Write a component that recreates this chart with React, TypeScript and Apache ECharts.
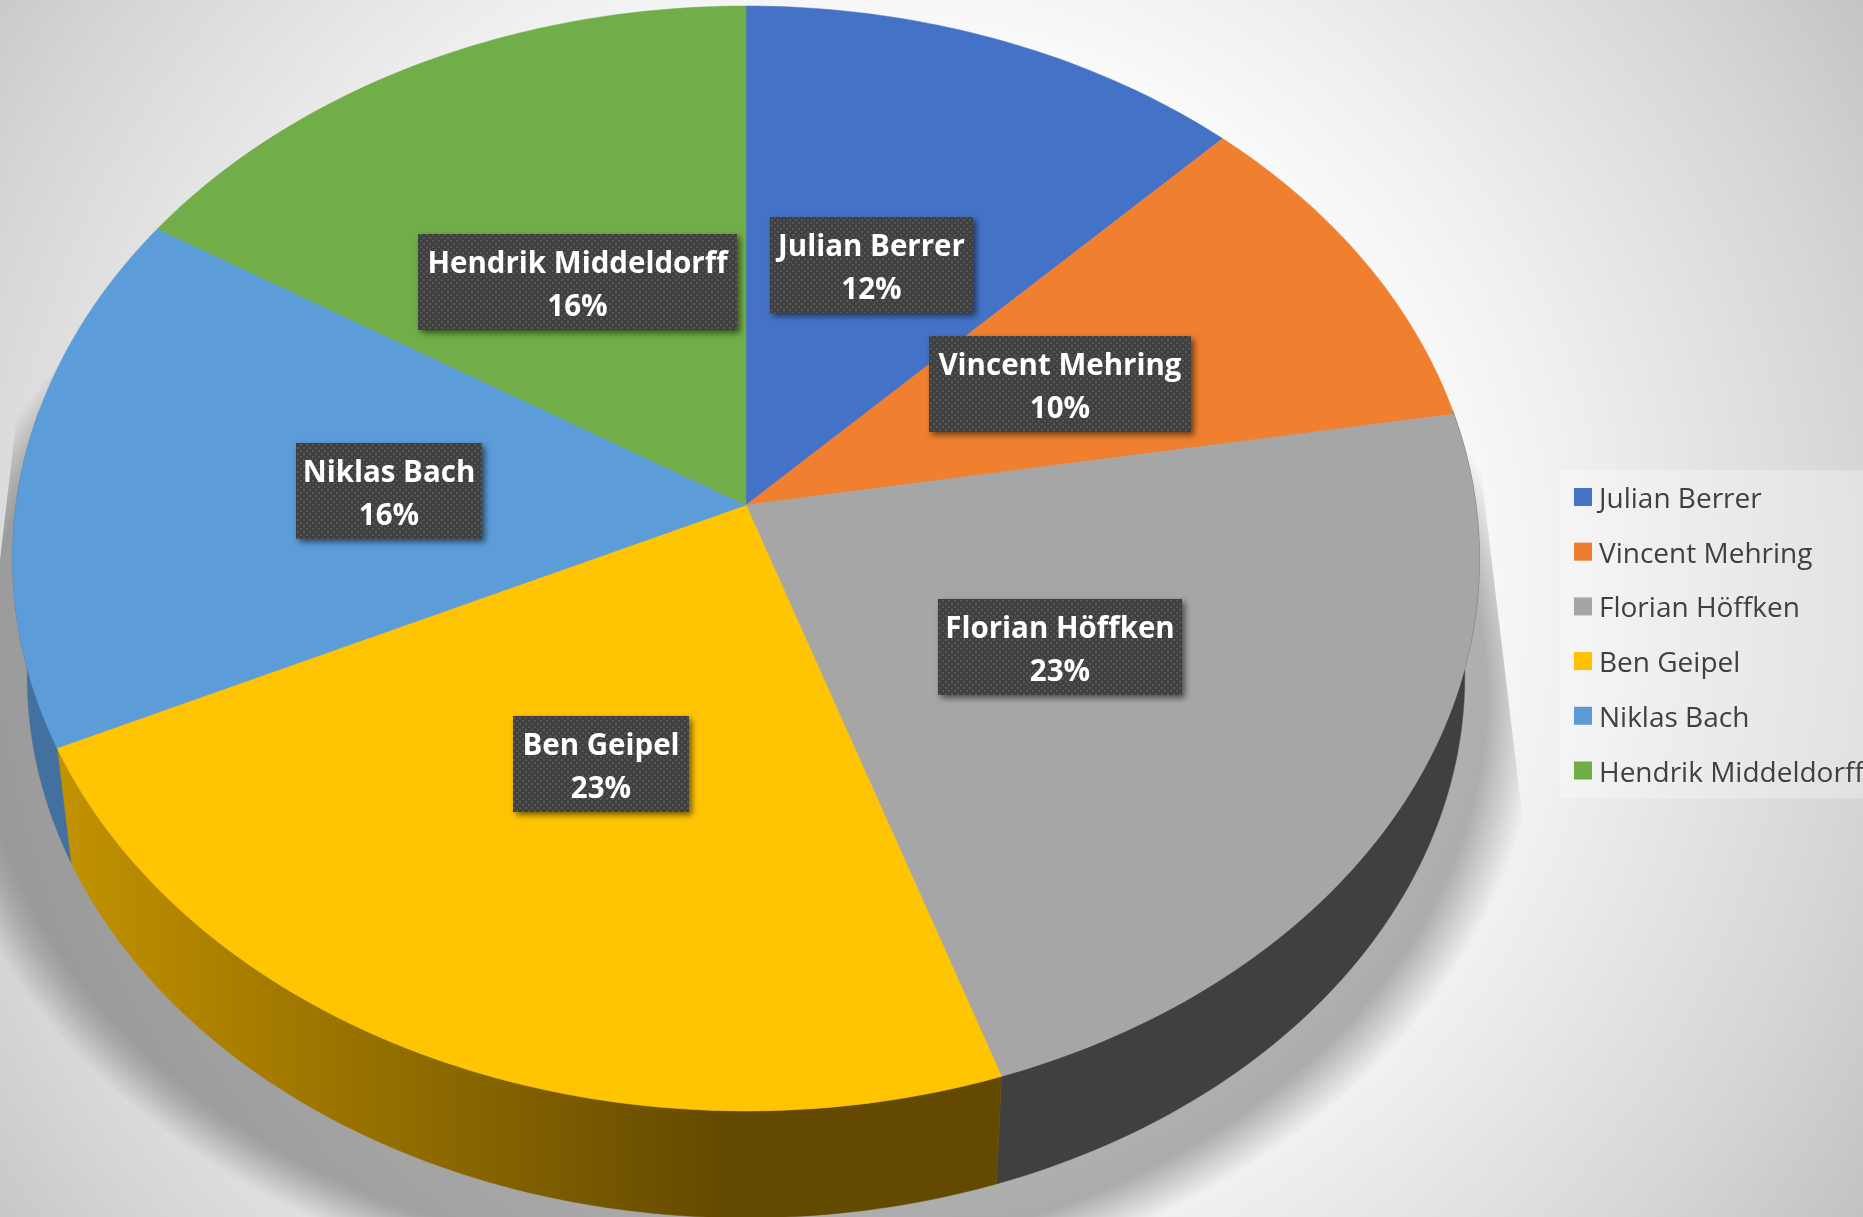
import React, { useEffect, useRef } from "react";
import * as echarts from "echarts";

const names = ["Julian Berrer", "Vincent Mehring", "Florian Höffken", "Ben Geipel", "Niklas Bach", "Hendrik Middeldorff"];
const shares = [12.3, 10.0, 22.55, 23.15, 15.9, 16.1];
const legendColors = ["#4472C4", "#ED7D31", "#A5A5A5", "#FFC000", "#5B9BD5", "#70AD47"];
const faceColors = ["#4472C6", "#F07F30", "#A6A6A6", "#FFC503", "#5C9CD9", "#71AD48"];

const W = 1863, H = 1217;
const CX = 746, CY = 505, RX = 730, RY = 547.3, K = 0.0968;
const WALL_SCALE = 0.98, WALL_DROP = 119;
const BOX_H = 96;
const labelBoxes = [
  [770, 217, 203], [929, 336, 262], [938, 599, 244],
  [513, 716, 176], [296, 443, 186], [418, 234, 319],
];

const DEG = Math.PI / 180;
function proj(deg: number, s = 1, drop = 0, shift = 0) {
  const X = Math.sin(deg * DEG), Y = Math.cos(deg * DEG), d = 1 + K * Y;
  return [CX + shift + (s * RX * X) / d, CY - (s * RY * Y) / d + drop];
}
function arc(a: number, b: number, s = 1, drop = 0, shift = 0) {
  const pts: number[][] = [];
  const n = Math.max(2, Math.ceil(Math.abs(b - a)));
  for (let i = 0; i <= n; i++) pts.push(proj(a + ((b - a) * i) / n, s, drop, shift));
  return pts;
}
const bgFill = {
  type: "radial", x: 900, y: 590, r: 1150, global: true,
  colorStops: [
    { offset: 0, color: "#ffffff" },
    { offset: 0.42, color: "#ffffff" },
    { offset: 0.6, color: "#efefef" },
    { offset: 0.84, color: "#d6d6d6" },
    { offset: 1, color: "#c2c2c2" },
  ],
};
function wallFill(i: number, color: string) {
  if (i === 3) {
    return {
      type: "linear", x: 60, y: 0, x2: 720, y2: 0, global: true,
      colorStops: [{ offset: 0, color: "#c29200" }, { offset: 1, color: "#644a00" }],
    };
  }
  return color;
}
const wallColors = ["#404040", "#404040", "#404040", "#7f6000", "#42719F", "#404040"];

function dotPattern() {
  const c = document.createElement("canvas");
  c.width = 6; c.height = 6;
  const g = c.getContext("2d")!;
  g.fillStyle = "#404040"; g.fillRect(0, 0, 6, 6);
  g.fillStyle = "#565656"; g.fillRect(0, 0, 2, 2); g.fillRect(3, 3, 2, 2);
  return c;
}

// soft-edged cast shadow: a stack of faint, slightly growing discs
function shadowDiscs() {
  const steps = 24, s0 = 1.03, s1 = 1.1;
  const out: any[] = [];
  for (let i = 0; i < steps; i++) {
    const s = s0 + ((s1 - s0) * i) / (steps - 1);
    out.push({
      type: "polygon", z: 0, silent: true,
      shape: { points: arc(0, 360, s, 135, -14) },
      style: { fill: "rgba(0,0,0,0.0105)" },
    });
  }
  return out;
}

export default function App() {
  const ref = useRef<HTMLDivElement>(null);
  useEffect(() => {
    const chart = echarts.init(ref.current!, undefined, { renderer: "svg", width: W, height: H });
    const total = shares.reduce((a, b) => a + b, 0);
    const starts: number[] = [];
    shares.reduce((acc, v, i) => { starts[i] = (acc / total) * 360; return acc + v; }, 0);
    const pattern = { image: dotPattern(), repeat: "repeat" };

    const series = names.map((name, i) => ({
      type: "custom",
      name,
      coordinateSystem: "none",
      silent: true,
      itemStyle: { color: legendColors[i] },
      data: [[shares[i]]],
      renderItem: (_p: any, api: any) => {
        const v = api.value(0);
        const a0 = starts[i], a1 = a0 + (v / total) * 360;
        const children: any[] = [];
        const w0 = Math.max(a0, 80), w1 = Math.min(a1, 280);
        if (w1 > w0) {
          const points = arc(w0, w1).concat(arc(w0, w1, WALL_SCALE, WALL_DROP).reverse());
          const fill = wallFill(i, wallColors[i]);
          children.push({ type: "polygon", z2: 1, shape: { points }, style: { fill, stroke: fill, lineWidth: 0.5 } });
        }
        children.push({
          type: "polygon", z2: 2,
          shape: { points: [[CX, CY], ...arc(a0, a1)] },
          style: { fill: faceColors[i], stroke: faceColors[i], lineWidth: 0.5 },
        });
        const [bx, by, bw] = labelBoxes[i];
        children.push({
          type: "rect", z2: 100,
          shape: { x: bx, y: by, width: bw, height: BOX_H },
          style: { fill: pattern, shadowBlur: 6, shadowOffsetX: 3, shadowOffsetY: 3, shadowColor: "rgba(0,0,0,0.55)" },
        });
        children.push({
          type: "text", z2: 101,
          style: {
            text: `${name}\n${Math.round((v / total) * 100)}%`,
            x: bx + bw / 2, y: by + BOX_H / 2 + 1,
            fill: "#ffffff", font: "bold 29.5px 'Open Sans'", lineHeight: 43,
            textAlign: "center", textVerticalAlign: "middle",
          },
        });
        return { type: "group", children };
      },
    }));

    chart.setOption({
      animation: false,
      graphic: {
        elements: [
          { type: "rect", z: 0, silent: true, shape: { x: 0, y: 0, width: W, height: H }, style: { fill: bgFill } },
          ...shadowDiscs(),
          {
            type: "polygon", z: 0, silent: true,
            shape: { points: [[1465, 0], [W, 0], [W, H], [1575, H], [1530, 880], [1470, 380]] },
            style: { fill: bgFill },
          },
          {
            type: "polygon", z: 0, silent: true,
            shape: { points: [[0, 0], [1465, 0], [1465, 345], [25, 345], [0, 560]] },
            style: { fill: bgFill },
          },
        ],
      },
      legend: {
        orient: "vertical",
        left: 1560, top: 470,
        padding: [12, 60, 13, 14],
        backgroundColor: "rgba(255,255,255,0.3)",
        data: names,
        icon: "rect",
        itemWidth: 18, itemHeight: 18,
        itemGap: 24.7,
        textStyle: { color: "#404040", fontSize: 28, lineHeight: 30, fontFamily: "'Open Sans'", padding: [0, 0, 0, 2] },
        selectedMode: false,
      },
      series,
    });
    return () => chart.dispose();
  }, []);
  return <div ref={ref} style={{ position: "fixed", left: 0, top: 0, width: W, height: H, overflow: "hidden" }} />;
}
